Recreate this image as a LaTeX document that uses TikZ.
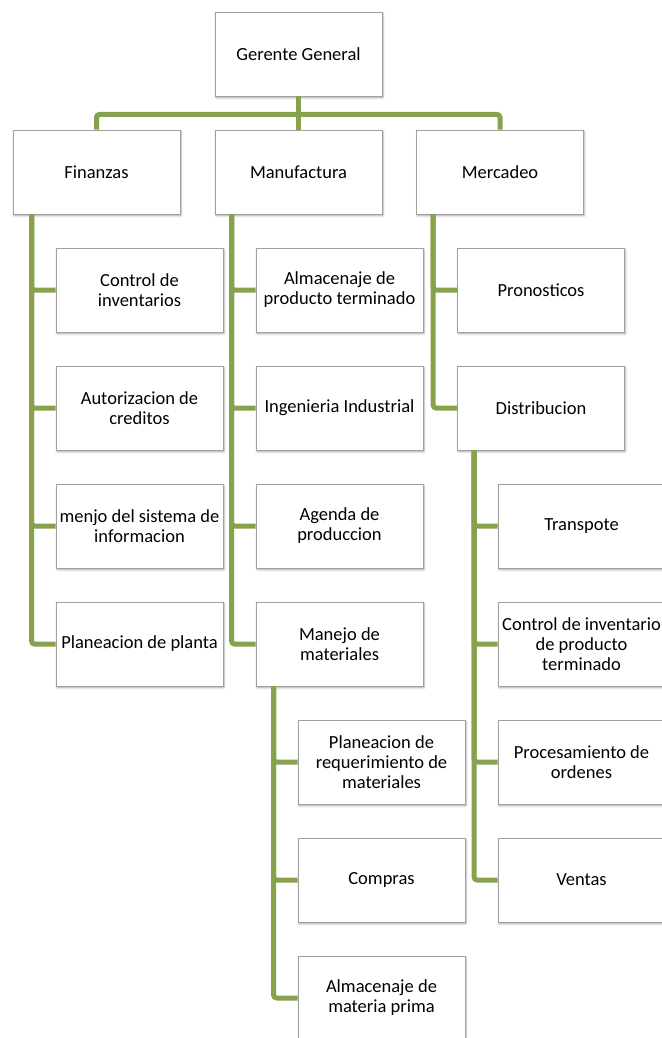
\documentclass[tikz,border=0pt]{standalone}
\usepackage{fontspec}
\setmainfont{Carlito}
\usetikzlibrary{shadows.blur}
\definecolor{branch}{RGB}{134,162,76}
\definecolor{boxline}{RGB}{160,160,160}
\begin{document}
\begin{tikzpicture}[x=1pt,y=1pt,
  unit/.style={draw=boxline, line width=0.9pt, fill=white,
    minimum width=167pt, minimum height=84pt, inner sep=1pt,
    align=center, font=\fontsize{18.5}{20}\selectfont,
    blur shadow={shadow xshift=1pt, shadow yshift=-1.8pt,
      shadow blur radius=2pt, shadow opacity=35}},
  conn/.style={draw=branch, line width=5pt, rounded corners=3pt}]
\useasboundingbox (0,0) rectangle (661,-1038);

% top level
\node[unit] (gg)  at (298.5,-54)  {Gerente General};
\node[unit] (fin) at (96.5,-172)  {Finanzas};
\node[unit] (man) at (298.5,-172) {Manufactura};
\node[unit] (mer) at (500,-172)   {Mercadeo};

% Finanzas
\node[unit] (f1) at (139.5,-290) {Control de\\inventarios};
\node[unit] (f2) at (139.5,-408) {Autorizacion de\\creditos};
\node[unit] (f3) at (139.5,-526) {menjo del sistema de\\informacion};
\node[unit] (f4) at (139.5,-644) {Planeacion de planta};

% Manufactura
\node[unit] (m1) at (339.5,-290) {Almacenaje de\\producto terminado};
\node[unit] (m2) at (339.5,-408) {Ingenieria Industrial};
\node[unit] (m3) at (339.5,-526) {Agenda de\\produccion};
\node[unit] (m4) at (339.5,-644) {Manejo de\\materiales};

% Manejo de materiales
\node[unit] (j1) at (381.5,-762) {Planeacion de\\requerimiento de\\materiales};
\node[unit] (j2) at (381.5,-880) {Compras};
\node[unit] (j3) at (381.5,-998) {Almacenaje de\\materia prima};

% Mercadeo
\node[unit] (k1) at (541,-290) {Pronosticos};
\node[unit] (k2) at (541,-408) {Distribucion};

% Distribucion
\node[unit] (d1) at (581.5,-526) {Transpote};
\node[unit] (d2) at (581.5,-644) {Control de inventario\\de producto\\terminado};
\node[unit] (d3) at (581.5,-762) {Procesamiento de\\ordenes};
\node[unit] (d4) at (581.5,-880) {Ventas};

% connectors
\begin{scope}[on background layer/.style={}]
\coordinate (bus) at ([yshift=-18pt]gg.south);
\draw[conn] (gg.south) -- (bus);
\draw[conn] (fin.north) |- (bus) -| (mer.north);
\draw[conn] (bus) -- (man.north);

\foreach \c in {f1,f2,f3,f4}
  \draw[conn] ([xshift=19pt]fin.south west) |- (\c.west);
\foreach \c in {m1,m2,m3,m4}
  \draw[conn] ([xshift=17pt]man.south west) |- (\c.west);
\foreach \c in {j1,j2,j3}
  \draw[conn] ([xshift=18pt]m4.south west) |- (\c.west);
\foreach \c in {k1,k2}
  \draw[conn] ([xshift=17pt]mer.south west) |- (\c.west);
\foreach \c in {d1,d2,d3,d4}
  \draw[conn] ([xshift=17pt]k2.south west) |- (\c.west);
\end{scope}
\end{tikzpicture}
\end{document}
